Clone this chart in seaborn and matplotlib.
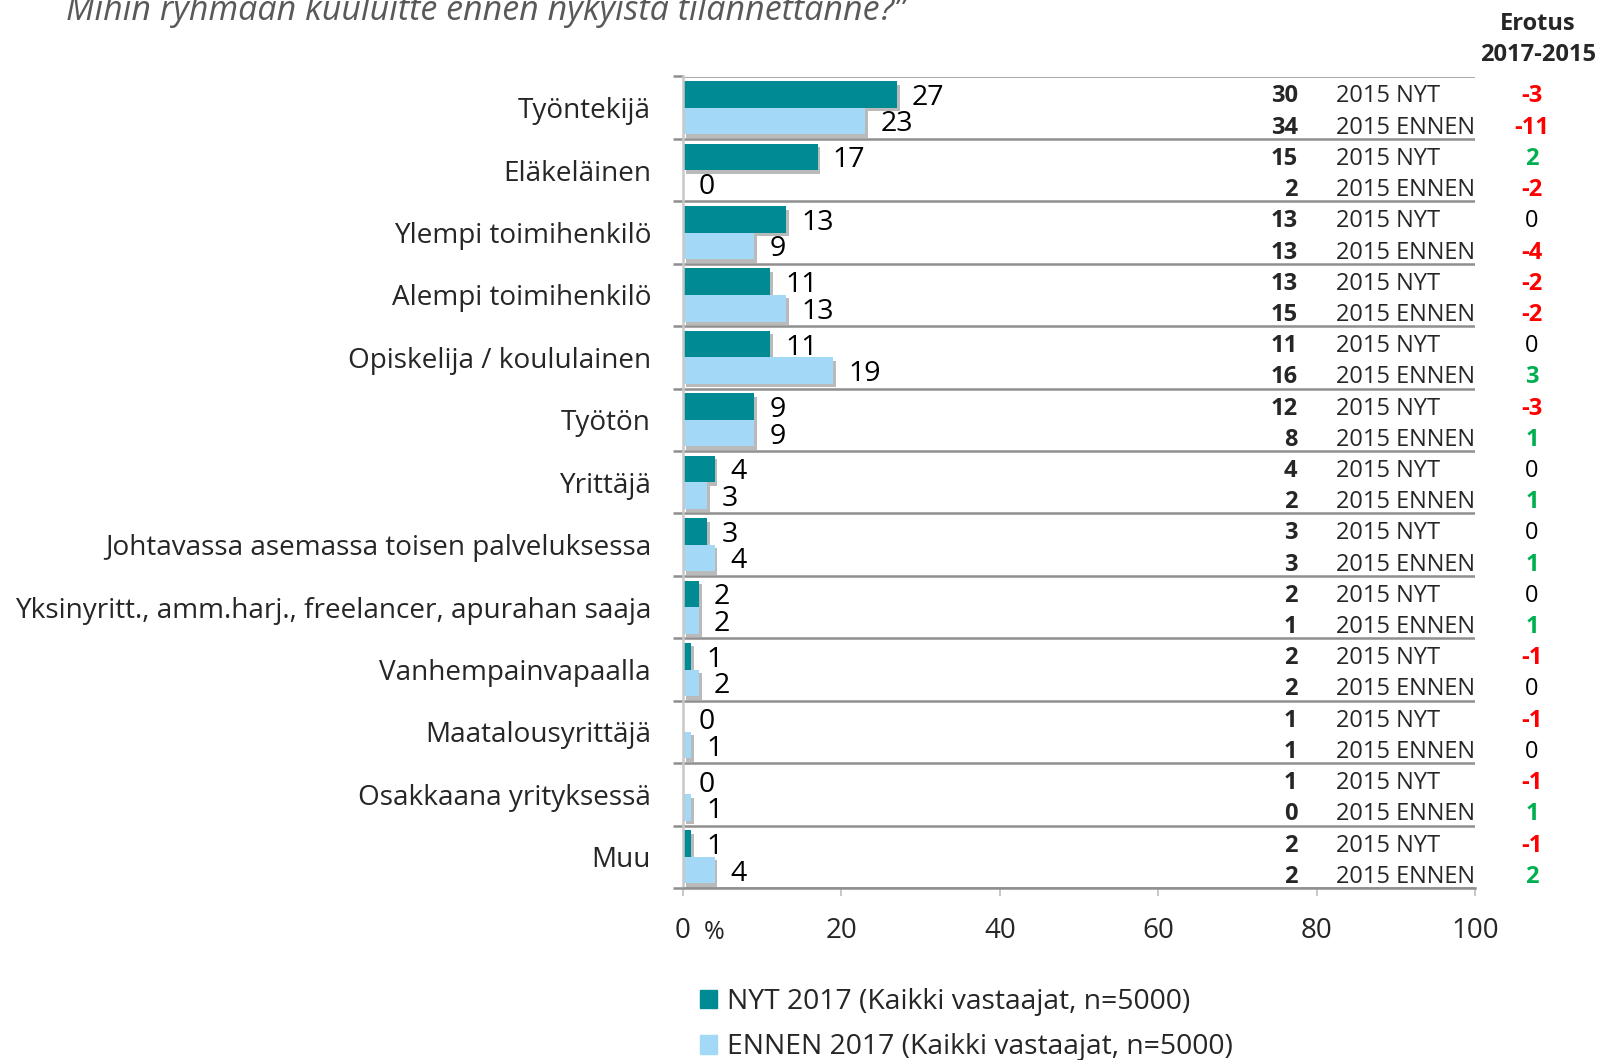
import numpy as np
import pandas as pd
import matplotlib
matplotlib.use('Agg')
import matplotlib.pyplot as plt
import matplotlib.patches as mpatches
import matplotlib.patheffects as pe
import seaborn as sns

# ## data
categories = ['Työntekijä', 'Eläkeläinen', 'Ylempi toimihenkilö', 'Alempi toimihenkilö',
              'Opiskelija / koululainen', 'Työtön', 'Yrittäjä',
              'Johtavassa asemassa toisen palveluksessa',
              'Yksinyritt., amm.harj., freelancer, apurahan saaja',
              'Vanhempainvapaalla', 'Maatalousyrittäjä', 'Osakkaana yrityksessä', 'Muu']
nyt_2017 = [27, 17, 13, 11, 11, 9, 4, 3, 2, 1, 0, 0, 1]
ennen_2017 = [23, 0, 9, 13, 19, 9, 3, 4, 2, 2, 1, 1, 4]
nyt_2015 = [30, 15, 13, 13, 11, 12, 4, 3, 2, 2, 1, 1, 2]
ennen_2015 = [34, 2, 13, 15, 16, 8, 2, 3, 1, 2, 1, 0, 2]
diff_nyt = [-3, 2, 0, -2, 0, -3, 0, 0, 0, -1, -1, -1, -1]
diff_ennen = [-11, -2, -4, -2, 3, 1, 1, 1, 1, 0, 0, 1, 2]
series = ['NYT 2017 (Kaikki vastaajat, n=5000)', 'ENNEN 2017 (Kaikki vastaajat, n=5000)']
xticks = [0, 20, 40, 60, 80, 100]

teal = '#008B94'
light = '#A3D9F7'
grid_c = '#8f8f8f'
font = ['Open Sans', 'DejaVu Sans']

df = pd.DataFrame({
    'category': categories * 2,
    'value': nyt_2017 + ennen_2017,
    'series': [series[0]] * len(categories) + [series[1]] * len(categories),
})

sns.set_style('white')
plt.rcParams['font.family'] = font

fig = plt.figure(figsize=(16, 10.6), dpi=100)
ax = fig.add_axes([683 / 1600, 1 - 888 / 1060, 792 / 1600, (888 - 76.5) / 1060])

sns.barplot(data=df, y='category', x='value', hue='series', orient='h',
            palette=[teal, light], saturation=1, width=0.85, linewidth=0,
            ax=ax, legend=False)

# soft drop shadow like the original
shadow = [pe.SimplePatchShadow(offset=(2, -2.5), shadow_rgbFace='#666666', alpha=0.45), pe.Normal()]
for cont in ax.containers:
    for p in cont:
        p.set_path_effects(shadow)
    anns = ax.bar_label(cont, padding=11, fontsize=20.5, color='black')
    for a in anns:
        a.xyann = (11, -2.5)

n = len(categories)
ax.set_xlim(0, 100)
ax.set_ylim(n - 0.5, -0.5)
for i in range(n + 1):
    ax.axhline(i - 0.5, color=grid_c, lw=1.8, zorder=0.5)

ax.set_xticks(xticks)
ax.set_xticklabels([str(t) for t in xticks])
ax.set_yticks(range(n))
ax.set_yticklabels(categories)
ax.set_yticks(np.arange(n + 1) - 0.5, minor=True)
ax.tick_params(axis='y', which='major', length=0, pad=23, labelsize=20.1)
ax.tick_params(axis='y', which='minor', left=True, length=7, width=1.8, color=grid_c, direction='out')
ax.tick_params(axis='x', which='major', bottom=True, length=6, width=1.2, color='#bfbfbf',
               direction='out', pad=15, labelsize=20)
ax.set_xlabel('')
ax.set_ylabel('')
for s in ['top', 'right']:
    ax.spines[s].set_visible(False)
ax.spines['left'].set_color('#c8c8c8')
ax.spines['left'].set_linewidth(1.8)
ax.spines['bottom'].set_color(grid_c)
ax.spines['bottom'].set_linewidth(1.8)

ax.annotate('%', xy=(0, 0), xycoords=('data', 'axes fraction'), xytext=(15, -23),
            textcoords='offset points', ha='left', va='top', fontsize=18)

# right side table
tr = ax.get_yaxis_transform()
for i in range(n):
    for off, val, lab, d in [(-0.18, nyt_2015[i], '2015 NYT', diff_nyt[i]),
                             (0.32, ennen_2015[i], '2015 ENNEN', diff_ennen[i])]:
        ax.text(0.776, i + off, str(val), transform=tr, ha='right', va='center',
                fontsize=17, fontweight='bold', clip_on=False)
        ax.text(0.824, i + off, lab, transform=tr, ha='left', va='center',
                fontsize=17, clip_on=False)
        col = '#FF0000' if d < 0 else ('#00B050' if d > 0 else 'black')
        ax.text(1.072, i + off, str(d), transform=tr, ha='center', va='center',
                fontsize=17, fontweight='bold' if d != 0 else 'normal', color=col, clip_on=False)

fig.text(0.961, 1 - 24 / 1060, 'Erotus', ha='center', va='center', fontsize=17, fontweight='bold')
fig.text(0.961, 1 - 55 / 1060, '2017-2015', ha='center', va='center', fontsize=17, fontweight='bold')

fig.text(66 / 1600, 1 - 20 / 1060, 'Mihin ryhmään kuuluitte ennen nykyistä tilannettanne?”',
         ha='left', va='baseline', fontsize=24.5, style='italic', color='#595959')

handles = [mpatches.Patch(color=teal), mpatches.Patch(color=light)]
fig.legend(handles, series, loc='upper left', bbox_to_anchor=(700 / 1600, 1 - 988 / 1060),
           frameon=False, fontsize=20.3, handlelength=0.62, handleheight=0.62, handletextpad=0.35,
           labelspacing=0.62, borderpad=0, borderaxespad=0)

fig.savefig('out.png', dpi=100)
